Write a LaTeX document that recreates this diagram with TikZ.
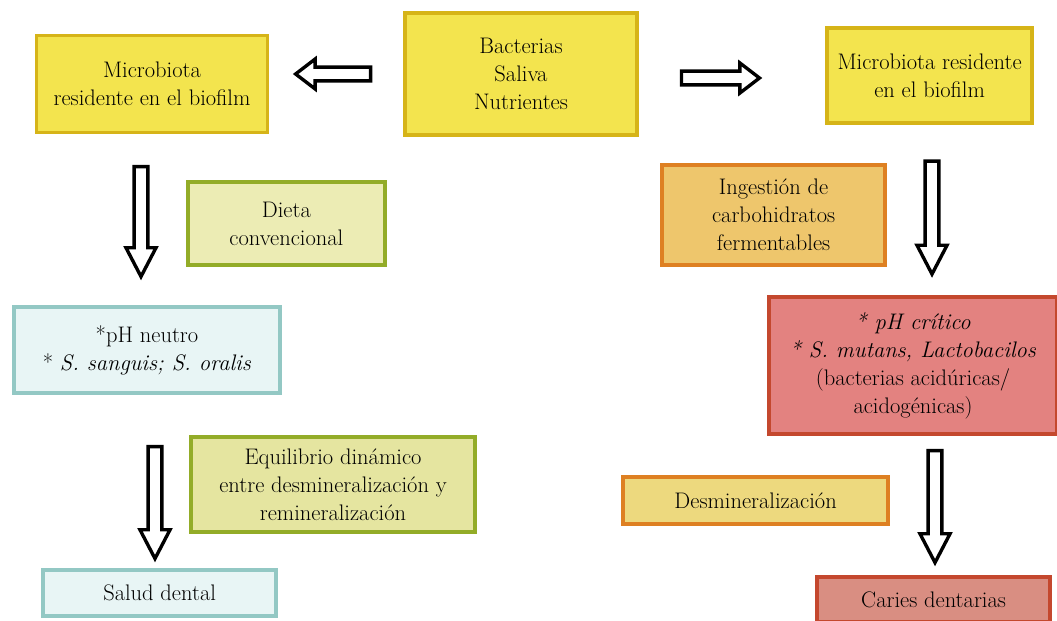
\documentclass[tikz,border=0pt]{standalone}
\usepackage{fontspec}
\usepackage{tikz}
\usepackage{xcolor}
\usetikzlibrary{arrows.meta, positioning, shapes.arrows}

\definecolor{amarillo}{HTML}{F3E44E}
\definecolor{amarilloB}{HTML}{D6B418}
\definecolor{verdeF}{HTML}{ECECB4}
\definecolor{verdeF2}{HTML}{E5E5A0}
\definecolor{verdeB}{HTML}{93AC28}
\definecolor{cianF}{HTML}{E8F5F5}
\definecolor{cianB}{HTML}{93C8C4}
\definecolor{naranjaF}{HTML}{EEC66C}
\definecolor{naranjaF2}{HTML}{EDD97E}
\definecolor{naranjaB}{HTML}{DE8022}
\definecolor{rojoF}{HTML}{E38280}
\definecolor{rojoF2}{HTML}{D98E82}
\definecolor{rojoB}{HTML}{C4482E}

\begin{document}
\begin{tikzpicture}[
  caja/.style={draw, line width=2.6pt, align=center, inner sep=2pt,
    font=\fontsize{16}{20}\selectfont},
  ybox/.style={caja, fill=amarillo, draw=amarilloB},
  gbox/.style={caja, fill=verdeF, draw=verdeB},
  cbox/.style={caja, fill=cianF, draw=cianB},
  obox/.style={caja, fill=naranjaF, draw=naranjaB},
  rbox/.style={caja, fill=rojoF, draw=rojoB},
  barr/.style={single arrow, draw=black, fill=white, line width=2.4pt,
    inner sep=0pt, minimum width=0.75cm, single arrow head extend=0.05cm}
]
  \useasboundingbox (0,0) rectangle (26.425,-15.5);

  % fila superior
  \node[ybox, minimum width=5.8cm, minimum height=3.05cm] (bact) at (13.025,-1.85)
    {Bacterias\\ Saliva\\ Nutrientes};
  \node[ybox, minimum width=5.775cm, minimum height=2.425cm] (micL) at (3.8,-2.1)
    {Microbiota\\ residente en el biofilm};
  \node[ybox, minimum width=5.125cm, minimum height=2.375cm] (micR) at (23.24,-1.89)
    {Microbiota residente\\ en el biofilm};
  \node[barr, single arrow tip angle=75, minimum height=1.875cm, rotate=180] (arrL) at (8.44,-1.85) {};
  \node[barr, single arrow tip angle=75, minimum height=1.95cm] (arrR) at (17.9,-1.95) {};

  % rama izquierda
  \node[barr, single arrow tip angle=55, minimum height=2.75cm, rotate=-90] (arrD1) at (3.525,-5.375) {};
  \node[gbox, minimum width=4.925cm, minimum height=2.075cm] (dieta) at (7.16,-5.59)
    {Dieta\\ convencional};
  \node[cbox, minimum width=6.65cm, minimum height=2.15cm] (phN) at (3.675,-8.75)
    {*pH neutro\\ * \textit{S. sanguis; S. oralis}};
  \node[barr, single arrow tip angle=55, minimum height=2.8cm, rotate=-90] (arrD2) at (3.875,-12.4) {};
  \node[gbox, fill=verdeF2, minimum width=7.1cm, minimum height=2.375cm] (equil) at (8.325,-12.11)
    {Equilibrio dinámico\\ entre desmineralización y\\ remineralización};
  \node[cbox, minimum width=5.825cm, minimum height=1.15cm] (salud) at (3.99,-14.825)
    {Salud dental};

  % rama derecha
  \node[barr, single arrow tip angle=55, minimum height=2.825cm, rotate=-90] (arrD3) at (23.3,-5.275) {};
  \node[obox, minimum width=5.575cm, minimum height=2.5cm] (ingest) at (19.34,-5.375)
    {Ingestión de\\ carbohidratos\\ fermentables};
  \node[rbox, minimum width=7.2cm, minimum height=3.425cm] (phC) at (22.825,-9.14)
    {\textit{* pH crítico}\\ \textit{* S. mutans, Lactobacilos}\\ (bacterias acidúricas/\\ acidogénicas)};
  \node[barr, single arrow tip angle=55, minimum height=2.8cm, rotate=-90] (arrD4) at (23.375,-12.5) {};
  \node[obox, fill=naranjaF2, minimum width=6.625cm, minimum height=1.175cm] (desmin) at (18.89,-12.51)
    {Desmineralización};
  \node[rbox, fill=rojoF2, minimum width=5.825cm, minimum height=1.125cm] (caries) at (23.34,-14.99)
    {Caries dentarias};
\end{tikzpicture}
\end{document}
